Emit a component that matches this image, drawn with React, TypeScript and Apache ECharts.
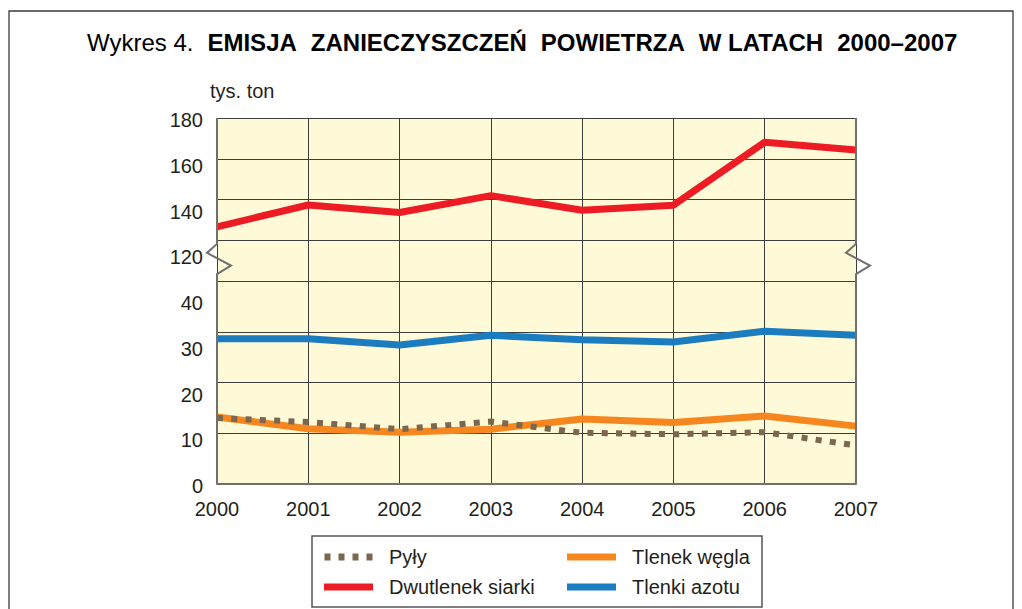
import React, { useEffect, useRef } from 'react';
import * as echarts from 'echarts';

const years = ['2000', '2001', '2002', '2003', '2004', '2005', '2006', '2007'];
const pyly = [13.0, 12.2, 10.8, 12.3, 10.1, 9.8, 10.2, 7.6];
const dwutlenekSiarki = [126.6, 137.3, 133.6, 141.9, 134.7, 137.2, 168.1, 164.3];
const tlenekWegla = [13.2, 10.9, 10.2, 10.8, 12.8, 12.1, 13.4, 11.4];
const tlenkiAzotu = [28.6, 28.6, 27.4, 29.3, 28.4, 28.0, 30.1, 29.3];
const yTickLabels = ['0', '10', '20', '30', '40', '120', '140', '160', '180'];
const titleWords = ['EMISJA', 'ZANIECZYSZCZEŃ', 'POWIETRZA', 'W LATACH', '2000–2007'];

const FONT = "'Liberation Sans', Arial, Helvetica, sans-serif";
const TXT = '#231f20';
const RED = '#ed1c24';
const BLUE = '#1b7dc0';
const ORANGE = '#f6871f';
const BROWN = '#7b6650';
const BG = '#fef9d6';
const GRID_LINE = '#3d3d3d';
const BORDER = '#707070';
const FS = 20;

export default function App() {
  const ref = useRef<HTMLDivElement>(null);

  useEffect(() => {
    const chart = echarts.init(ref.current as HTMLDivElement, null, { renderer: 'svg' });

    const xCommon = {
      type: 'category',
      data: years,
      boundaryGap: false,
      axisTick: { show: false },
    };

    const option: any = {
      animation: false,
      backgroundColor: '#ffffff',
      grid: [
        { left: 217, right: 166, top: 118, height: 163, show: true, backgroundColor: BG, borderWidth: 0 },
        { left: 217, right: 166, top: 281, height: 203, show: true, backgroundColor: BG, borderWidth: 0 },
        { left: 217, right: 166, top: 120, height: 366, show: false },
      ],
      xAxis: [
        {
          ...xCommon,
          gridIndex: 0,
          axisLine: { show: false },
          axisLabel: { show: false },
          splitLine: { show: true, lineStyle: { color: GRID_LINE, width: 1 } },
        },
        {
          ...xCommon,
          gridIndex: 1,
          axisLine: { show: true, lineStyle: { color: BORDER, width: 2 } },
          axisLabel: { show: true, margin: 15, fontSize: FS, color: TXT, fontFamily: FONT },
          splitLine: { show: true, lineStyle: { color: GRID_LINE, width: 1 } },
        },
        { ...xCommon, gridIndex: 2, show: false },
      ],
      yAxis: [
        {
          type: 'value',
          gridIndex: 0,
          min: 100,
          max: 180,
          interval: 20,
          axisLine: { show: false },
          axisTick: { show: false },
          axisLabel: { show: false },
          splitLine: { show: true, lineStyle: { color: GRID_LINE, width: 1 } },
        },
        {
          type: 'value',
          gridIndex: 1,
          min: 0,
          max: 40,
          interval: 10,
          axisLine: { show: false },
          axisTick: { show: false },
          axisLabel: { show: false },
          splitLine: { show: true, lineStyle: { color: GRID_LINE, width: 1 } },
        },
        {
          type: 'value',
          gridIndex: 2,
          min: 0,
          max: 8,
          interval: 1,
          axisLine: { show: false },
          axisTick: { show: false },
          splitLine: { show: false },
          axisLabel: {
            show: true,
            margin: 14,
            fontSize: FS,
            color: TXT,
            fontFamily: FONT,
            formatter: (v: number) => yTickLabels[Math.round(v)] ?? '',
          },
        },
      ],
      legend: [
        {
          orient: 'vertical',
          left: 324,
          top: 547,
          padding: 0,
          itemWidth: 49,
          itemHeight: 7,
          itemGap: 10,
          selectedMode: false,
          itemStyle: { borderWidth: 0 },
          textStyle: { fontSize: FS, color: TXT, fontFamily: FONT, lineHeight: 20, padding: [0, 0, 0, 11] },
          data: [
            {
              name: 'Pyły',
              icon: 'path://M0,0h6v7h-6zM14,0h6v7h-6zM28,0h6v7h-6zM42,0h6v7h-6z',
              itemStyle: { color: BROWN, borderWidth: 0 },
            },
            { name: 'Dwutlenek siarki', icon: 'rect', itemStyle: { color: RED, borderWidth: 0 } },
          ],
        },
        {
          orient: 'vertical',
          left: 567,
          top: 547,
          padding: 0,
          itemWidth: 49,
          itemHeight: 7,
          itemGap: 10,
          selectedMode: false,
          itemStyle: { borderWidth: 0 },
          textStyle: { fontSize: FS, color: TXT, fontFamily: FONT, lineHeight: 20, padding: [0, 0, 0, 11] },
          data: [
            { name: 'Tlenek węgla', icon: 'rect', itemStyle: { color: ORANGE, borderWidth: 0 } },
            { name: 'Tlenki azotu', icon: 'rect', itemStyle: { color: BLUE, borderWidth: 0 } },
          ],
        },
      ],
      series: [
        {
          name: 'Dwutlenek siarki',
          type: 'line',
          xAxisIndex: 0,
          yAxisIndex: 0,
          data: dwutlenekSiarki,
          symbol: 'none',
          clip: false,
          color: RED,
          lineStyle: { color: RED, width: 7 },
          z: 3,
        },
        {
          name: 'Tlenki azotu',
          type: 'line',
          xAxisIndex: 1,
          yAxisIndex: 1,
          data: tlenkiAzotu,
          symbol: 'none',
          clip: false,
          color: BLUE,
          lineStyle: { color: BLUE, width: 7 },
          z: 3,
        },
        {
          name: 'Tlenek węgla',
          type: 'line',
          xAxisIndex: 1,
          yAxisIndex: 1,
          data: tlenekWegla,
          symbol: 'none',
          clip: false,
          color: ORANGE,
          lineStyle: { color: ORANGE, width: 7 },
          z: 3,
        },
        {
          name: 'Pyły',
          type: 'line',
          xAxisIndex: 1,
          yAxisIndex: 1,
          data: pyly,
          symbol: 'none',
          clip: false,
          color: BROWN,
          lineStyle: { color: BROWN, width: 6, type: [6, 8.3], cap: 'butt' },
          z: 4,
        },
      ],
    };

    chart.setOption(option);

    // Decorations computed from the axes (plot border with axis-break zigzags)
    const px = (g: number, x: number, y: number) =>
      chart.convertToPixel({ gridIndex: g } as any, [x, y]) as number[];
    const left = px(0, 0, 180)[0];
    const right = px(0, years.length - 1, 180)[0];
    const top = px(0, 0, 180)[1];
    const y120 = px(0, 0, 120)[1];
    const y40 = px(1, 0, 40)[1];
    const bottom = px(1, 0, 0)[1];
    const gap = y40 - y120;
    const zz = (x0: number) => [
      [x0, top],
      [x0, y120 + gap * 0.09],
      [x0 - 10, y120 + gap * 0.31],
      [x0 + 14, y120 + gap * 0.62],
      [x0, y120 + gap * 0.83],
      [x0, bottom],
    ];

    const richTitle: any = {
      a: { fontSize: 24, fontFamily: FONT, color: TXT, fontWeight: 'normal' },
      b: { fontSize: 24, fontFamily: FONT, color: TXT, fontWeight: 'bold' },
      g: { width: 14, fontSize: 24 },
      g0: { width: 14, fontSize: 24 },
    };
    const titleText =
      '{a|Wykres 4.}{g0| }' + titleWords.map((w) => `{b|${w}}`).join('{g| }');

    chart.setOption({
      graphic: [
        {
          type: 'rect',
          shape: { x: 9, y: 11, width: 1004, height: 640 },
          style: { fill: 'none', stroke: '#3a3a3a', lineWidth: 1.3 },
          silent: true,
          z: 0,
        },
        {
          type: 'text',
          x: 87,
          y: 42,
          style: { text: titleText, rich: richTitle, verticalAlign: 'middle', align: 'left' },
          z: 10,
        },
        {
          type: 'text',
          x: 210,
          y: 91,
          style: { text: 'tys. ton', fontSize: FS, fontFamily: FONT, fill: TXT, verticalAlign: 'middle' },
          z: 10,
        },
        {
          type: 'polyline',
          shape: { points: zz(left) },
          style: { stroke: BORDER, lineWidth: 2, fill: 'none' },
          z: 10,
        },
        {
          type: 'polyline',
          shape: { points: zz(right) },
          style: { stroke: BORDER, lineWidth: 2, fill: 'none' },
          z: 10,
        },
        {
          type: 'rect',
          shape: { x: 312, y: 536, width: 450, height: 71 },
          style: { fill: 'none', stroke: '#555555', lineWidth: 1.5 },
          silent: true,
          z: 10,
        },
      ],
    });

    return () => chart.dispose();
  }, []);

  return (
    <div
      ref={ref}
      style={{ position: 'fixed', left: 0, top: 0, width: 1022, height: 609 }}
    />
  );
}
